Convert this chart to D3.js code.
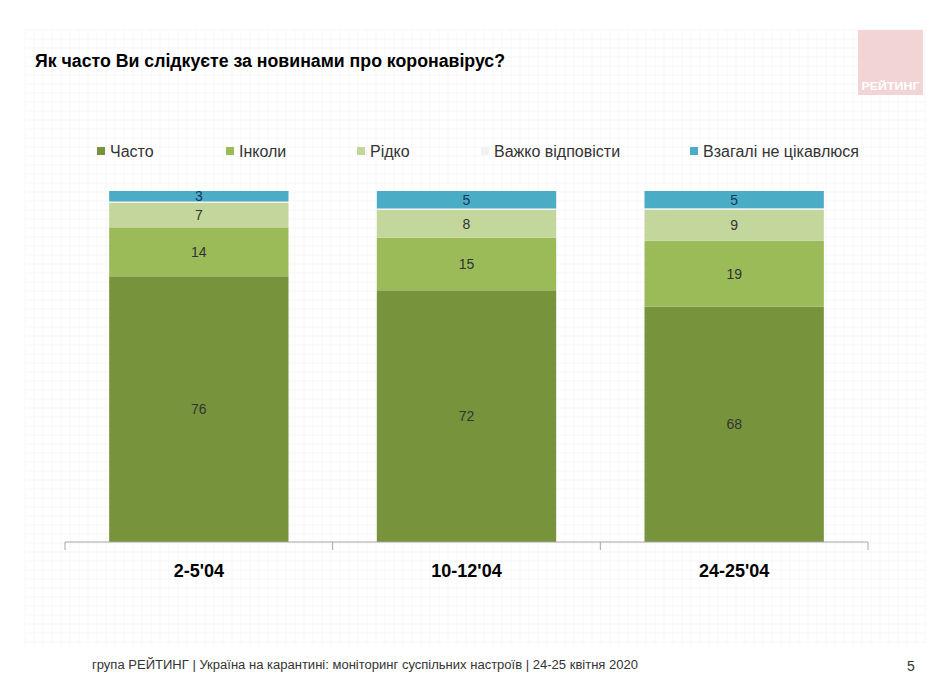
<!DOCTYPE html>
<html><head><meta charset="utf-8">
<script src="https://cdn.jsdelivr.net/npm/d3@7/dist/d3.min.js"></script>
<style>body{margin:0;background:#fff}svg{display:block;font-family:"Liberation Sans",Arial,sans-serif}</style>
</head><body>
<svg id="c" width="950" height="678"></svg>
<script>
const categories = ["2-5'04", "10-12'04", "24-25'04"];
const seriesNames = ["Часто", "Інколи", "Рідко", "Важко відповісти", "Взагалі не цікавлюся"];
const often = [76, 72, 68];
const sometimes = [14, 15, 19];
const rarely = [7, 8, 9];
const hardToSay = [0.4, 0.4, 0.4];
const notInterested = [3, 5, 5];
const colors = ["#77933C", "#9BBB59", "#C3D69B", "#F2F2F2", "#4BACC6"];

const svg = d3.select("#c");

// faint grid background
const gridG = svg.append("g");
const gx = d3.range(25, 926, 9), gy = d3.range(30, 646, 9);
gridG.selectAll("line.v").data(gx).join("line").attr("x1", d => d).attr("x2", d => d).attr("y1", 30).attr("y2", 645).attr("stroke", "#f7f7f7").attr("stroke-width", 1);
gridG.selectAll("line.h").data(gy).join("line").attr("y1", d => d).attr("y2", d => d).attr("x1", 25).attr("x2", 925).attr("stroke", "#f7f7f7").attr("stroke-width", 1);

// logo
svg.append("rect").attr("x", 858).attr("y", 30).attr("width", 65).attr("height", 65).attr("fill", "#f2d4d4");
svg.append("text").attr("x", 890.5).attr("y", 90).attr("text-anchor", "middle").attr("font-size", 11).attr("font-weight", "bold").attr("fill", "#fff").attr("textLength", 58).attr("lengthAdjust", "spacingAndGlyphs").text("РЕЙТИНГ");

// title
svg.append("text").attr("x", 35).attr("y", 67).attr("font-size", 18).attr("font-weight", "bold").attr("fill", "#000").attr("textLength", 470).attr("lengthAdjust", "spacingAndGlyphs").text("Як часто Ви слідкуєте за новинами про коронавірус?");

// data table
const table = categories.map((c, i) => ({cat: c, s0: often[i], s1: sometimes[i], s2: rarely[i], s3: hardToSay[i], s4: notInterested[i]}));
const keys = ["s0", "s1", "s2", "s3", "s4"];
const stack = d3.stack().keys(keys).offset(d3.stackOffsetExpand);
const series = stack(table);

const x = d3.scaleBand().domain(categories).range([65, 868]).paddingInner(0.33).paddingOuter(0.165);
const y = d3.scaleLinear().domain([0, 1]).range([542, 191]);

const g = svg.append("g");
series.forEach((s, si) => {
  g.selectAll(null).data(s).join("rect")
    .attr("x", d => x(d.data.cat))
    .attr("width", x.bandwidth())
    .attr("y", d => y(d[1]))
    .attr("height", d => y(d[0]) - y(d[1]))
    .attr("fill", colors[si]);
});
// labels
series.forEach((s, si) => {
  if (si === 3) return;
  g.selectAll(null).data(s).join("text")
    .attr("x", d => x(d.data.cat) + x.bandwidth() / 2)
    .attr("y", d => (y(d[0]) + y(d[1])) / 2 + 5)
    .attr("text-anchor", "middle")
    .attr("font-size", 14)
    .attr("fill", si === 4 ? "#17375E" : "#333")
    .text(d => table.find(t => t.cat === d.data.cat)[keys[si]]);
});

// axis
const axisG = svg.append("g").attr("transform", "translate(0,542)");
axisG.append("line").attr("x1", 65).attr("x2", 868).attr("stroke", "#a6a6a6").attr("stroke-width", 1);
const tickPos = [65].concat(categories.map(c => x(c) + x.bandwidth() + x.step() * x.paddingInner() / 2));
tickPos[tickPos.length - 1] = 868;
axisG.selectAll("line.t").data(tickPos).join("line").attr("x1", d => d).attr("x2", d => d).attr("y1", 0).attr("y2", 8).attr("stroke", "#a6a6a6");
axisG.selectAll("text").data(categories).join("text")
  .attr("x", d => x(d) + x.bandwidth() / 2).attr("y", 35)
  .attr("text-anchor", "middle").attr("font-size", 18).attr("font-weight", "bold").attr("fill", "#000")
  .text(d => d);

// legend
const legX = [97, 226, 357, 481, 690];
const leg = svg.append("g");
seriesNames.forEach((n, i) => {
  leg.append("rect").attr("x", legX[i]).attr("y", 147).attr("width", 8).attr("height", 8).attr("fill", colors[i]);
  leg.append("text").attr("x", legX[i] + 13).attr("y", 157).attr("font-size", 16).attr("fill", "#333").text(n);
});

// footer
svg.append("text").attr("x", 92).attr("y", 669).attr("font-size", 12).attr("fill", "#333").attr("textLength", 546).attr("lengthAdjust", "spacingAndGlyphs")
  .text("група РЕЙТИНГ | Україна на карантині: моніторинг суспільних настроїв  | 24-25 квітня  2020");
svg.append("text").attr("x", 911).attr("y", 671).attr("text-anchor", "middle").attr("font-size", 14).attr("fill", "#333").text("5");
</script>
</body></html>
